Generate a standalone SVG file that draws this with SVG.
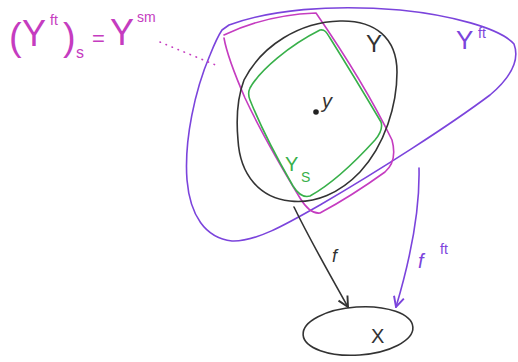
<svg xmlns="http://www.w3.org/2000/svg" width="518" height="362" viewBox="0 0 518 362">
<defs>
<style>
.s{fill:none;stroke-width:1.6;stroke-linecap:round;stroke-linejoin:round}
.v{stroke:#7b44dc}.m{stroke:#c53cc0}.g{stroke:#38b04a}.k{stroke:#333}
.t{font-family:"Liberation Sans",sans-serif}
</style>
<marker id="ak" viewBox="0 0 10 10" refX="9" refY="5" markerWidth="8" markerHeight="8" orient="auto"><path d="M1,1 L9,5 L1,9" fill="none" stroke="#333" stroke-width="1.5"/></marker>
<marker id="av" viewBox="0 0 10 10" refX="9" refY="5" markerWidth="8" markerHeight="8" orient="auto"><path d="M1,1 L9,5 L1,9" fill="none" stroke="#7b44dc" stroke-width="1.5"/></marker>
</defs>
<rect width="518" height="362" fill="#fff"/>
<g id="Yft">
<path class="s v" d="M229,25 C270,10 330,4 400,10 C450,15 500,28 514,44 C520,60 510,78 490,95 C450,125 380,170 320,205 C285,225 255,242 232,241 C205,238 190,215 187,180 C184,140 195,90 210,55 C214,45 218,36 222,30 L229,25"/>
<text class="t" x="456" y="49" font-size="26" fill="#7b44dc">Y</text>
<text class="t" x="478" y="38" font-size="14" fill="#7b44dc">ft</text>
</g>
<g id="Yft_s">
<path class="s m" d="M224,35 C255,20 290,14 316,13 C345,55 375,105 392,140 C396,155 393,165 385,172 C360,190 335,205 320,213 C312,214 306,208 300,198 C280,165 260,130 245,98 C235,75 227,55 224,38"/>
</g>
<g id="Y">
<path class="s k" d="M244,80 C262,45 300,22 340,21 C375,20 397,38 397,72 C397,105 385,145 360,172 C340,193 315,204 290,201 C260,198 240,175 238,140 C236,118 238,96 244,80"/>
<text class="t" x="366" y="52" font-size="24" fill="#333">Y</text>
<circle cx="316" cy="112" r="2.8" fill="#222"/>
<text class="t" x="322" y="108" font-size="20" font-style="italic" fill="#333">y</text>
</g>
<g id="Ys">
<path class="s g" d="M250,88 C260,70 290,45 320,30 C325,29 327,33 330,38 C350,70 368,100 381,122 C383,128 380,134 375,140 C355,162 330,185 310,196 C303,198 298,194 293,186 C278,160 262,130 250,100 C248,95 248,92 250,88"/>
<text class="t" x="285" y="171" font-size="20" fill="#38b04a">Y</text>
<text class="t" x="301" y="182" font-size="14" fill="#38b04a">S</text>
</g>
<g id="X">
<ellipse class="s k" cx="358" cy="331" rx="55" ry="24" transform="rotate(-4 358 331)"/>
<text class="t" x="371" y="343" font-size="20" fill="#333">X</text>
</g>
<g id="label">
<text class="t" font-size="38" fill="#c53cc0" x="9" y="50" font-weight="300">(</text>
<text class="t" font-size="36" fill="#c53cc0" x="22" y="46">Y</text>
<text class="t" font-size="14" fill="#c53cc0" x="50" y="25">ft</text>
<text class="t" font-size="38" fill="#c53cc0" x="63" y="50" font-weight="300">)</text>
<text class="t" font-size="16" fill="#c53cc0" x="76" y="58">s</text>
<text class="t" font-size="22" fill="#c53cc0" x="92" y="46">=</text>
<text class="t" font-size="36" fill="#c53cc0" x="110" y="45">Y</text>
<text class="t" font-size="14" fill="#c53cc0" x="137" y="22">sm</text>
</g>
<g id="connectors">
<path class="s" stroke="#c53cc0" stroke-dasharray="0.5 6" stroke-width="2.2" d="M160,42 L218,66"/>
<path class="s k" d="M294,207 C310,240 330,275 348,307" marker-end="url(#ak)"/>
<text class="t" x="332" y="262" font-size="18" font-style="italic" fill="#333">f</text>
<path class="s v" d="M419,168 C420,210 410,260 396,307" marker-end="url(#av)"/>
<text class="t" x="418" y="268" font-size="20" font-style="italic" fill="#7b44dc">f</text>
<text class="t" x="440" y="254" font-size="14" fill="#7b44dc">ft</text>
</g>
</svg>
